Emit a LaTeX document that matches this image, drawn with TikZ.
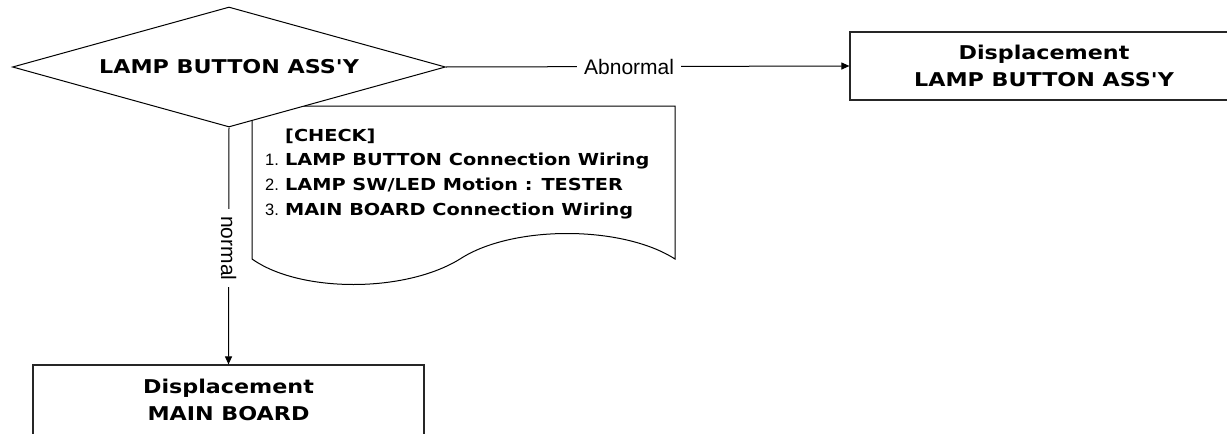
\documentclass[tikz,border=0pt]{standalone}
\usepackage{fontspec}
\setmainfont{Liberation Sans}
\newfontfamily\hb[FakeStretch=1.17]{DejaVu Sans}
\usetikzlibrary{shapes.geometric,arrows.meta}
\tikzset{
  ln/.style={line width=1pt, draw=black},
  arr/.style={ln, -{Triangle[length=8pt,width=7pt]}},
  boxnode/.style={draw=black!85, line width=1.2pt, fill=white, align=center, inner sep=0pt,
    font=\hb\bfseries\fontsize{19}{27}\selectfont},
  lbl/.style={fill=white, font=\fontsize{21}{24}\selectfont, inner xsep=7pt, inner ysep=1pt},
  chk/.style={anchor=base west, inner sep=0pt, font=\fontsize{16.5}{20}\selectfont},
}
\newcommand{\bt}[1]{{\hb\bfseries #1}}
\begin{document}
\begin{tikzpicture}[x=1pt,y=-1pt]
\useasboundingbox (0,0) rectangle (1227,434);
% document shape
\draw[ln, fill=white] (252,106) -- (675,106) -- (675,259)
  .. controls (622,225) and (512,225) .. (460,259)
  .. controls (405,293) and (300,293) .. (252,259) -- cycle;
\node[chk] (c0) at (285,141) {\bt{[CHECK]}};
\node[chk] (c1) at (265,165) {1. \bt{LAMP BUTTON Connection Wiring}};
\node[chk] (c2) at (265,190) {2. \bt{LAMP SW/LED Motion : TESTER}};
\node[chk] (c3) at (265,215) {3. \bt{MAIN BOARD Connection Wiring}};
% decision
\node[draw=black, line width=1pt, fill=white, shape=diamond, aspect=3.608, minimum width=433pt, minimum height=120pt, inner sep=0pt,
  font=\hb\bfseries\fontsize{19}{22}\selectfont] (dec) at (229,67) {LAMP BUTTON ASS'Y};
% boxes
\node[boxnode, minimum width=388pt, minimum height=68pt] (rbox) at (1044,66) {Displacement\\LAMP BUTTON ASS'Y};
\node[boxnode, minimum width=391pt, minimum height=70pt] (bbox) at (228.5,400) {Displacement\\MAIN BOARD};
% connectors
\draw[arr] (dec.east) -- node[lbl, pos=0.454] (abn) {Abnormal} (rbox.west);
\draw[arr] (dec.south) -- node[lbl, pos=0.51, rotate=-90] (nor) {normal} (bbox.north);
\end{tikzpicture}
\end{document}
